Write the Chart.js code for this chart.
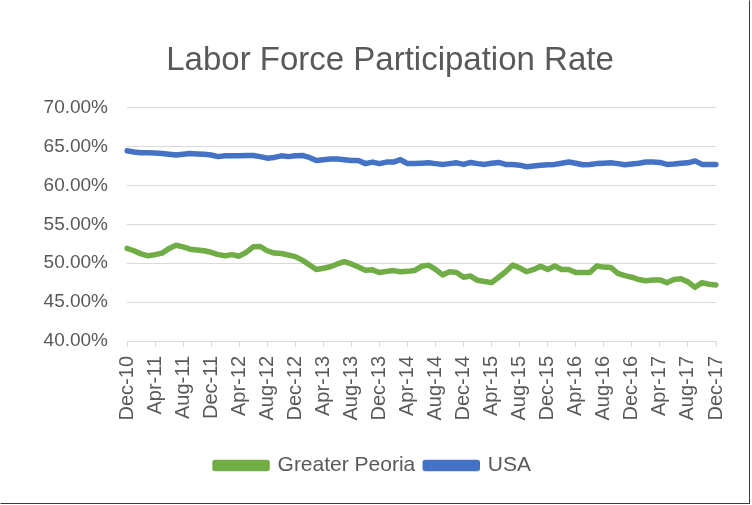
<!DOCTYPE html>
<html>
<head>
<meta charset="utf-8">
<script src="https://cdn.jsdelivr.net/npm/chart.js@4.4.1/dist/chart.umd.min.js"></script>
<style>
  html, body { margin: 0; padding: 0; background: #fff; }
  #wrap { position: absolute; left: 0; top: 0; width: 750px; height: 504px; box-sizing: border-box; border: 1.5px solid #3a3a3a; border-top-color: #fff; border-left-color: #fff; }
  #chart { position: absolute; left: 0; top: 0; }
</style>
</head>
<body>
<div id="wrap"></div>
<canvas id="chart" width="752" height="505"></canvas>
<script>
// monthly, Dec-10 .. Dec-17
const monthNames = ['Jan','Feb','Mar','Apr','May','Jun','Jul','Aug','Sep','Oct','Nov','Dec'];
const months = [];
for (let y = 2010, m = 11; y < 2018; ) {
    months.push(monthNames[m] + '-' + String(y).slice(2));
    if (y === 2017 && m === 11) break;
    m++;
    if (m > 11) { m = 0; y++; }
}

const peoria = [
    51.9, 51.6, 51.2, 50.95, 51.1, 51.3, 51.9, 52.3, 52.1, 51.8,
    51.7, 51.6, 51.4, 51.1, 50.95, 51.1, 50.9, 51.4, 52.1, 52.15,
    51.6, 51.3, 51.25, 51.05, 50.85, 50.4, 49.8, 49.2, 49.35, 49.55,
    49.9, 50.2, 49.9, 49.5, 49.1, 49.15, 48.8, 48.95, 49.05, 48.9,
    48.95, 49.05, 49.6, 49.75, 49.2, 48.5, 48.9, 48.8, 48.2, 48.35,
    47.8, 47.65, 47.5, 48.2, 48.9, 49.75, 49.4, 48.9, 49.2, 49.6,
    49.2, 49.65, 49.2, 49.2, 48.8, 48.8, 48.8, 49.65, 49.5, 49.45,
    48.7, 48.4, 48.2, 47.9, 47.75, 47.85, 47.85, 47.5, 47.9, 48.0,
    47.6, 46.9, 47.5, 47.3, 47.2
];

const usa = [
    64.45, 64.3, 64.2, 64.2, 64.15, 64.1, 64.0, 63.9, 64.0, 64.1,
    64.05, 64.0, 63.9, 63.7, 63.8, 63.8, 63.8, 63.85, 63.85, 63.7,
    63.5, 63.6, 63.8, 63.7, 63.8, 63.85, 63.6, 63.2, 63.3, 63.4,
    63.4, 63.3, 63.2, 63.2, 62.8, 63.0, 62.8, 63.0, 63.0, 63.3,
    62.8, 62.8, 62.85, 62.9, 62.8, 62.7, 62.8, 62.9, 62.7, 62.95,
    62.8, 62.7, 62.85, 62.95, 62.7, 62.7, 62.6, 62.4, 62.5, 62.6,
    62.65, 62.7, 62.85, 63.0, 62.85, 62.65, 62.7, 62.8, 62.85, 62.9,
    62.8, 62.65, 62.75, 62.85, 63.0, 63.0, 62.95, 62.7, 62.75, 62.85,
    62.9, 63.15, 62.7, 62.7, 62.7
];

const textColor = '#595959';
const gridColor = '#d9d9d9';
const fontFamily = '"Liberation Sans", Arial, sans-serif';

// shift title / legend centres like the Excel original
const recenter = {
    id: 'recenter',
    afterLayout(chart) {
        if (chart.titleBlock) chart.titleBlock.left = 64;
        if (chart.legend) chart.legend.left = 30;
    }
};

const ctx = document.getElementById('chart').getContext('2d');
const chart = new Chart(ctx, {
    type: 'line',
    data: {
        labels: months,
        datasets: [
            { label: 'Greater Peoria', data: peoria, borderColor: '#70ad47', backgroundColor: '#70ad47', borderWidth: 5.5, pointRadius: 0, tension: 0, borderJoinStyle: 'round', borderCapStyle: 'round' },
            { label: 'USA', data: usa, borderColor: '#4472c4', backgroundColor: '#4472c4', borderWidth: 5.5, pointRadius: 0, tension: 0, borderJoinStyle: 'round', borderCapStyle: 'round' }
        ]
    },
    options: {
        responsive: false,
        animation: false,
        layout: { padding: { left: 0, right: 36, top: 0, bottom: 19 } },
        scales: {
            x: {
                offset: false,
                grid: {
                    drawOnChartArea: false,
                    drawTicks: true,
                    tickLength: 6,
                    color: (c) => (c.index % 4 === 0 ? gridColor : 'rgba(0,0,0,0)')
                },
                border: { display: true, color: gridColor, width: 1 },
                ticks: {
                    autoSkip: false,
                    maxRotation: 90,
                    minRotation: 90,
                    padding: 9,
                    color: textColor,
                    font: { family: fontFamily, size: 20 },
                    callback: (v, i) => (i % 4 === 0 ? months[i] : '')
                },
                afterFit: (scale) => { scale.height = 104; }
            },
            y: {
                min: 40,
                max: 70,
                grid: { color: gridColor, lineWidth: 1, drawTicks: false },
                border: { display: false },
                ticks: {
                    stepSize: 5,
                    padding: 19,
                    color: textColor,
                    font: { family: fontFamily, size: 19 },
                    callback: (v) => v.toFixed(2) + '%'
                },
                afterFit: (scale) => { scale.width = 127; }
            }
        },
        plugins: {
            title: {
                display: true,
                text: 'Labor Force Participation Rate',
                color: textColor,
                font: { family: fontFamily, size: 33, weight: 'normal' },
                padding: { top: 41, bottom: 27 }
            },
            legend: {
                position: 'bottom',
                labels: {
                    color: textColor,
                    font: { family: fontFamily, size: 21 },
                    boxWidth: 52,
                    boxHeight: 6,
                    padding: 10
                }
            },
            tooltip: { enabled: false }
        }
    },
    plugins: [recenter]
});
</script>
</body>
</html>
